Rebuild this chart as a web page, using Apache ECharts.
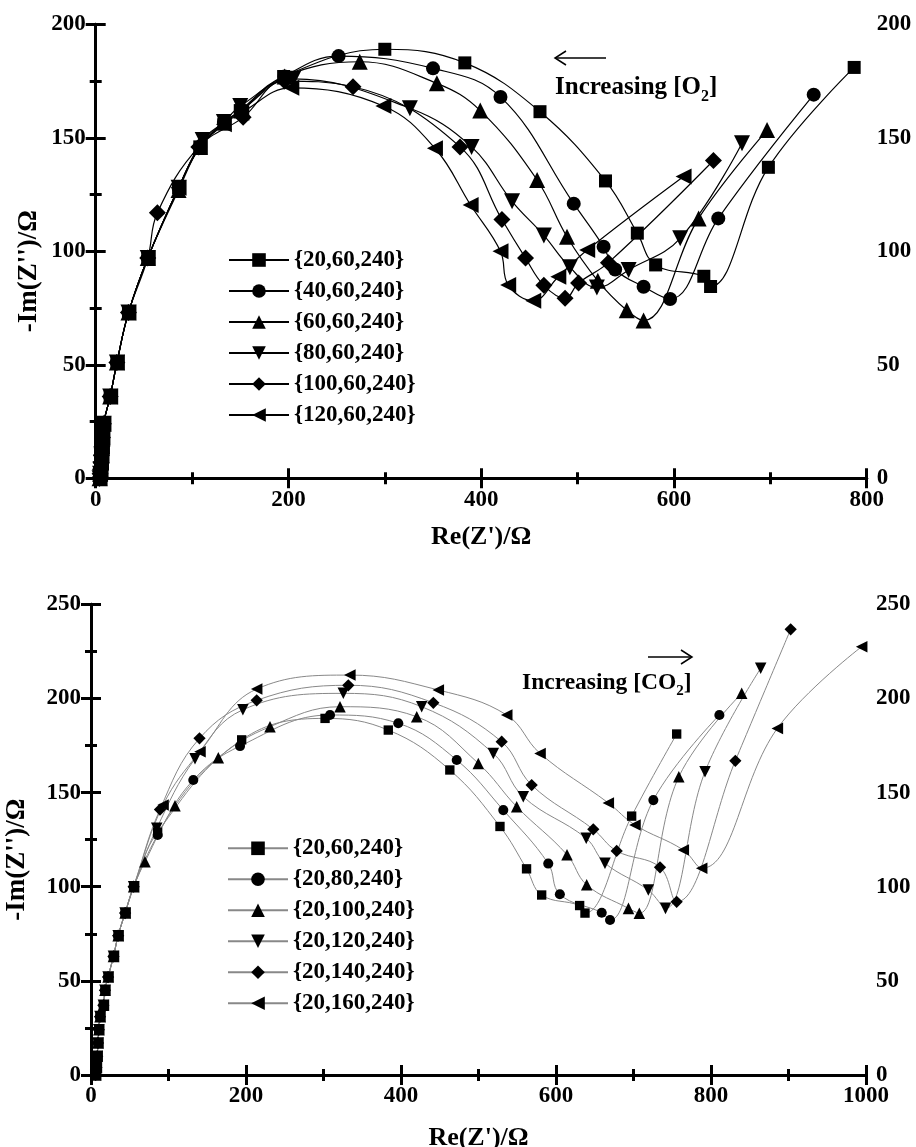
<!DOCTYPE html>
<html>
<head>
<meta charset="utf-8">
<script src="https://cdn.jsdelivr.net/npm/echarts@6.0.0/dist/echarts.min.js"></script>
<style>
body { margin: 0; background: #fff; }
#top { position: absolute; left: 0; top: 0; width: 916px; height: 573px; }
#bottom { position: absolute; left: 0; top: 573px; width: 916px; height: 574px; }
</style>
</head>
<body>
<div id="top"></div>
<div id="bottom"></div>
<script>
// 数据：上图（改变 O2）
const o2Names = ['{20,60,240}', '{40,60,240}', '{60,60,240}', '{80,60,240}', '{100,60,240}', '{120,60,240}']
const o2Start = [[4, 0], [4.5, 2], [5, 4], [5.5, 7], [6, 10], [6.5, 14], [7, 18], [8, 24], [15, 36], [22, 51], [34, 73], [54, 97]]
const o2s1 = [[86, 128], [108, 146], [133, 156], [150, 162], [195, 177], [300, 189], [383, 183], [461, 161.5], [529, 131], [562, 108], [581, 94], [631, 89], [638, 84.5], [698, 137], [787, 181]]
const o2s2 = [[86, 128], [108, 146], [133, 157], [151, 162], [196, 177], [252, 186], [350, 180.6], [420, 168], [496, 121], [527, 102], [539, 92], [568.5, 84.4], [596, 79], [646, 114.5], [745, 169]]
const o2s3 = [[86, 127], [108, 146], [133, 157], [151, 162], [196, 177], [274, 183.5], [354, 174], [399, 162], [458, 131.4], [489, 106.4], [521, 87], [551, 74], [568.5, 69.5], [625.6, 114.5], [696.6, 153.4]]
const o2s4 = [[86, 128], [111, 149], [133, 157], [150, 164], [205, 176], [326, 163], [390, 146], [432, 122], [465, 107], [492, 93], [520, 84], [553, 91.8], [606.5, 105.7], [670.6, 147.6]]
const o2s5 = [[64, 117], [107, 146], [153, 159], [196, 175], [267, 172.5], [378, 146], [421.5, 114], [446, 97], [465, 85], [487, 79.3], [501, 86], [532, 95], [641, 140]]
const o2s6 = [[86, 128], [108, 146], [133, 156], [151, 161], [203, 172], [298.5, 164], [352, 145.4], [389, 120.4], [420, 100], [428, 85.2], [454, 78.2], [480, 88.8], [510, 100.6], [610, 133]]

// 数据：下图（改变 CO2）
const co2Names = ['{20,60,240}', '{20,80,240}', '{20,100,240}', '{20,120,240}', '{20,140,240}', '{20,160,240}']
const co2Start = [[6, 0], [7, 4], [8, 10], [9, 17], [10, 24], [11.6, 31], [16, 37], [18, 45], [22, 52], [29, 63], [35, 74], [44, 86], [55, 100]]
const co2s1 = [[86, 129], [194.4, 178], [302, 189.4], [383.6, 183.2], [463, 162], [527.7, 132], [562, 109.5], [581.5, 95.6], [630.5, 90], [637.4, 86], [697.6, 137.5], [755.7, 181.1]]
const co2s2 = [[86, 127.5], [132, 156.7], [192.3, 174.7], [308.4, 191.2], [396.5, 186.8], [471.9, 167.3], [532, 140.7], [590, 112.3], [605, 96], [659, 86.2], [669.7, 82.3], [725.6, 146], [810.8, 191.2]]
const co2s3 = [[69.7, 113.3], [108.4, 143], [164.3, 168.5], [231, 185], [321.3, 195.6], [420.3, 190.3], [499.8, 165.5], [549.3, 142.5], [614.2, 117], [639.6, 101], [693.5, 88.5], [707.5, 85.9], [758.5, 158.4], [839.6, 202.7]]
const co2s4 = [[84.8, 131], [134.2, 168], [196, 194], [325.6, 202.7], [426.7, 195.6], [519.1, 170.8], [557.8, 147.8], [639, 125.7], [663.2, 112.5], [719.1, 98.2], [741.3, 88.5], [792.3, 161.1], [864.1, 216]]
const co2s5 = [[89, 141], [140, 178.8], [213.8, 199], [332, 207], [441.7, 197.7], [529.9, 177], [568.6, 154], [648.1, 130.5], [678.3, 119], [734.2, 110.3], [755.7, 92], [831.4, 166.9], [902.8, 236.7]]
const co2s6 = [[93, 143.4], [140.6, 171.7], [213.8, 205], [334, 212.4], [448.1, 204.5], [536.4, 191.2], [579.4, 170.8], [667.5, 144.5], [701.9, 132.8], [764.3, 119.5], [788, 109.8], [885.6, 184.1], [994.4, 227.5]]

const font = '"Liberation Serif", "Times New Roman", serif'

// 六种点的形状
const marks = [
    {symbol: 'rect', rotate: 0, size: 13},
    {symbol: 'circle', rotate: 0, size: 14},
    {symbol: 'triangle', rotate: 0, size: 16},
    {symbol: 'triangle', rotate: 180, size: 16},
    {symbol: 'diamond', rotate: 0, size: 17},
    {symbol: 'triangle', rotate: 90, size: 16},
]

const measure = (text, f) => {
    let c = document.createElement('canvas').getContext('2d')
    c.font = f
    return c.measureText(text).width
}

// 带下标的注释文字
const noteText = (x, y, size, head, sub, tail) => {
    let big = `bold ${size}px ${font}`
    let small = `bold ${Math.round(size * 0.64)}px ${font}`
    let w1 = measure(head, big)
    let w2 = measure(sub, small)
    let base = {fill: '#000', verticalAlign: 'middle', align: 'left'}
    return [
        {type: 'text', x: x, y: y, style: Object.assign({text: head, font: big}, base)},
        {type: 'text', x: x + w1, y: y + size * 0.36, style: Object.assign({text: sub, font: small}, base)},
        {type: 'text', x: x + w1 + w2, y: y, style: Object.assign({text: tail, font: big}, base)},
    ]
}

const axisCommon = (min, max, interval) => {
    return {
        type: 'value',
        min: min,
        max: max,
        interval: interval,
        axisLine: {show: true, lineStyle: {color: '#000', width: 3}},
        axisTick: {show: true, inside: true, length: 10, lineStyle: {color: '#000', width: 3}},
        minorTick: {show: true, splitNumber: 2, length: 6, lineStyle: {color: '#000', width: 3}},
        splitLine: {show: false},
        minorSplitLine: {show: false},
        axisLabel: {
            color: '#000', fontFamily: font, fontWeight: 'bold', fontSize: 23, margin: 10,
            formatter: (v) => String(v),
        },
    }
}

const makeOption = (cfg) => {
    let series = cfg.data.map((d, i) => {
        let m = marks[i]
        return {
            type: 'line',
            name: cfg.names[i],
            data: cfg.start.concat(d),
            smooth: 0.4,
            showAllSymbol: true,
            symbol: m.symbol,
            symbolRotate: m.rotate,
            symbolSize: m.size * cfg.scale,
            lineStyle: {color: cfg.lineColor, width: cfg.lineWidth},
            itemStyle: {color: '#000'},
            emphasis: {disabled: true},
        }
    })
    let xBottom = Object.assign(axisCommon(0, cfg.xMax, 200), {
        position: 'bottom',
        name: "Re(Z')/Ω",
        nameLocation: 'middle',
        nameGap: cfg.xNameGap,
        nameMoveOverlap: false,
        nameTextStyle: {color: '#000', fontFamily: font, fontWeight: 'bold', fontSize: 26},
    })
    let xTop = Object.assign(axisCommon(0, cfg.xMax, 200), {position: 'top'})
    xTop.axisLabel = {show: false}
    let yLeft = Object.assign(axisCommon(0, cfg.yMax, 50), {
        position: 'left',
        name: "-Im(Z'')/Ω",
        nameLocation: 'middle',
        nameGap: cfg.yNameGap,
        nameMoveOverlap: false,
        nameTextStyle: {
            color: '#000', fontFamily: font, fontWeight: 'bold', fontSize: 27,
            padding: [0, 40, 0, 0],
        },
    })
    let yRight = Object.assign(axisCommon(0, cfg.yMax, 50), {position: 'right'})
    return {
        animation: false,
        backgroundColor: '#fff',
        grid: Object.assign({outerBoundsMode: 'none', containLabel: false}, cfg.grid),
        xAxis: [xBottom, xTop],
        yAxis: [yLeft, yRight],
        legend: {
            orient: 'vertical',
            left: cfg.legendLeft,
            top: cfg.legendTop,
            padding: 0,
            itemWidth: 60,
            itemHeight: 17,
            itemGap: 8,
            selectedMode: false,
            data: cfg.names,
            textStyle: {color: '#000', fontFamily: font, fontWeight: 'bold', fontSize: 23},
        },
        graphic: cfg.graphic,
        series: series,
    }
}

let topChart = echarts.init(document.querySelector('#top'))
topChart.setOption(makeOption({
    names: o2Names,
    start: o2Start,
    data: [o2s1, o2s2, o2s3, o2s4, o2s5, o2s6],
    scale: 1,
    lineColor: '#000',
    lineWidth: 1.2,
    xMax: 800,
    yMax: 200,
    grid: {left: 95.7, right: 49.3, top: 24.3, bottom: 94.7},
    xNameGap: 46,
    yNameGap: 53,
    legendLeft: 228,
    legendTop: 248.5,
    graphic: [
        {type: 'line', shape: {x1: 555, y1: 58, x2: 606, y2: 58}, style: {stroke: '#000', lineWidth: 1.5}},
        {type: 'polyline', shape: {points: [[566, 51], [555, 58], [566, 65]]}, style: {stroke: '#000', lineWidth: 1.5, fill: null}},
    ].concat(noteText(555, 88, 25, 'Increasing [O', '2', ']')),
}))

let bottomChart = echarts.init(document.querySelector('#bottom'))
bottomChart.setOption(makeOption({
    names: co2Names,
    start: co2Start,
    data: [co2s1, co2s2, co2s3, co2s4, co2s5, co2s6],
    scale: 0.72,
    lineColor: '#888',
    lineWidth: 1,
    xMax: 1000,
    yMax: 250,
    grid: {left: 91, right: 50, top: 31.3, bottom: 72},
    xNameGap: 50,
    yNameGap: 60,
    legendLeft: 227,
    legendTop: 263.8,
    graphic: [
        {type: 'line', shape: {x1: 648, y1: 84, x2: 692, y2: 84}, style: {stroke: '#000', lineWidth: 1.5}},
        {type: 'polyline', shape: {points: [[681, 77], [692, 84], [681, 91]]}, style: {stroke: '#000', lineWidth: 1.5, fill: null}},
    ].concat(noteText(522, 110, 23.5, 'Increasing [CO', '2', ']')),
}))
</script>
</body>
</html>
